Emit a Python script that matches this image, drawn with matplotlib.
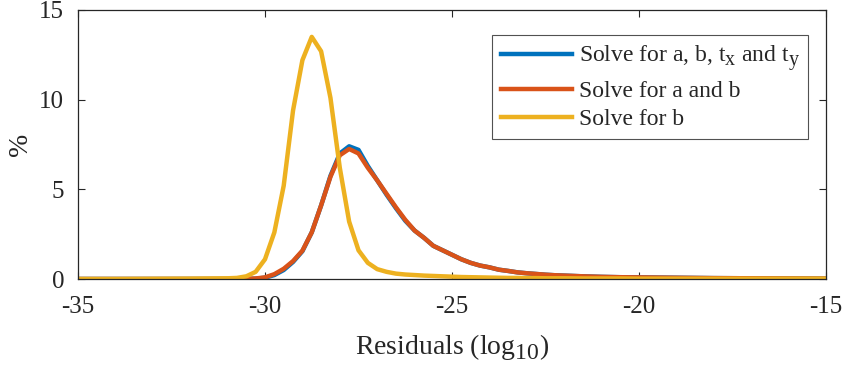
import numpy as np
import matplotlib
matplotlib.use("Agg")
import matplotlib.pyplot as plt
import matplotlib._mathtext as _mt

# Data
x_vals = [-35.0, -34.0, -33.0, -32.0, -31.5, -31.0, -30.75, -30.5, -30.25, -30.0,
          -29.75, -29.5, -29.25, -29.0, -28.75, -28.5, -28.25, -28.0, -27.75, -27.5,
          -27.25, -27.0, -26.75, -26.5, -26.25, -26.0, -25.75, -25.5, -25.25, -25.0,
          -24.75, -24.5, -24.25, -24.0, -23.75, -23.5, -23.25, -23.0, -22.75, -22.5,
          -22.25, -22.0, -21.5, -21.0, -20.5, -20.0, -19.0, -18.0, -17.0, -16.0, -15.0]

solve_ab_txty = [0.0, 0.0, 0.0, 0.0, 0.0, 0.0, 0.0, 0.0, 0.02, 0.07,
                 0.22, 0.5, 0.95, 1.55, 2.6, 4.1, 5.75, 7.0, 7.4, 7.2,
                 6.3, 5.5, 4.7, 3.95, 3.25, 2.7, 2.3, 1.85, 1.6, 1.35,
                 1.1, 0.9, 0.75, 0.65, 0.52, 0.45, 0.37, 0.32, 0.28, 0.24,
                 0.21, 0.19, 0.15, 0.12, 0.1, 0.09, 0.07, 0.05, 0.04, 0.03, 0.02]

solve_ab = [0.0, 0.0, 0.0, 0.0, 0.0, 0.0, 0.0, 0.01, 0.03, 0.09,
            0.27, 0.57, 1.0, 1.58, 2.6, 4.1, 5.7, 6.9, 7.25, 7.0,
            6.2, 5.5, 4.75, 4.0, 3.3, 2.7, 2.3, 1.85, 1.6, 1.35,
            1.1, 0.9, 0.75, 0.65, 0.52, 0.45, 0.37, 0.32, 0.28, 0.24,
            0.21, 0.19, 0.15, 0.12, 0.1, 0.09, 0.07, 0.05, 0.04, 0.03, 0.02]

solve_b = [0.0, 0.0, 0.01, 0.02, 0.03, 0.04, 0.06, 0.15, 0.4, 1.1,
           2.6, 5.2, 9.4, 12.2, 13.5, 12.7, 10.1, 6.2, 3.2, 1.6,
           0.9, 0.55, 0.4, 0.3, 0.25, 0.22, 0.19, 0.17, 0.15, 0.13,
           0.11, 0.1, 0.09, 0.08, 0.07, 0.06, 0.06, 0.05, 0.05, 0.04,
           0.04, 0.04, 0.03, 0.03, 0.03, 0.02, 0.02, 0.02, 0.02, 0.02, 0.02]

labels = [r"Solve for a, b, t$_\mathrm{x}$ and t$_\mathrm{y}$",
          "Solve for a and b",
          "Solve for b"]
colors = ["#0072BD", "#D95319", "#EDB120"]

x_ticks = [-35, -30, -25, -20, -15]
y_ticks = [0, 5, 10, 15]

# MATLAB-like larger, lower subscripts
try:
    _mt.SHRINK_FACTOR = 0.85
    _mt.FontConstantsBase.sub1 = 0.45
    _mt.FontConstantsBase.sub2 = 0.6
except Exception:
    pass

plt.rcParams['font.family'] = ['Liberation Serif', 'DejaVu Serif']
plt.rcParams['mathtext.fontset'] = 'custom'
plt.rcParams['mathtext.rm'] = 'Liberation Serif'
plt.rcParams['mathtext.it'] = 'Liberation Serif:italic'

fig = plt.figure(figsize=(8.54, 3.68), dpi=100)
ax = fig.add_axes([78/854, 1-279/368, 748/854, 269/368])

for ys, lab, c in zip([solve_ab_txty, solve_ab, solve_b], labels, colors):
    ax.plot(x_vals, ys, color=c, lw=3.2, label=lab, solid_joinstyle='round')

ax.set_xlim(-35, -15)
ax.set_ylim(0, 15)
ax.set_xticks(x_ticks)
ax.set_yticks(y_ticks)
ax.set_xticklabels([str(t) for t in x_ticks])
ax.set_yticklabels([str(t) for t in y_ticks])
ax.tick_params(direction='in', top=True, right=True, labelsize=18,
               color='#262626', labelcolor='#262626', length=5, width=0.8)
ax.tick_params(axis='x', pad=12)
ax.tick_params(axis='y', pad=10)
for s in ax.spines.values():
    s.set_color('#262626')
    s.set_linewidth(0.9)

ax.set_xlabel(r"Residuals (log$_{10}$)", fontsize=20, color='#262626', labelpad=10)
ax.set_ylabel("%", fontsize=20, color='#262626')
ax.yaxis.set_label_coords(-0.06, 0.5)

leg = ax.legend(loc='upper right', bbox_to_anchor=(0.976, 0.907), fontsize=17,
                handlelength=3.0, frameon=True, fancybox=False, borderaxespad=0,
                labelspacing=0.28, handletextpad=0.3, borderpad=0.35)
leg.get_frame().set_edgecolor('#262626')
leg.get_frame().set_linewidth(0.8)
for t in leg.get_texts():
    t.set_color('#262626')

fig.savefig("out.png", dpi=100)
